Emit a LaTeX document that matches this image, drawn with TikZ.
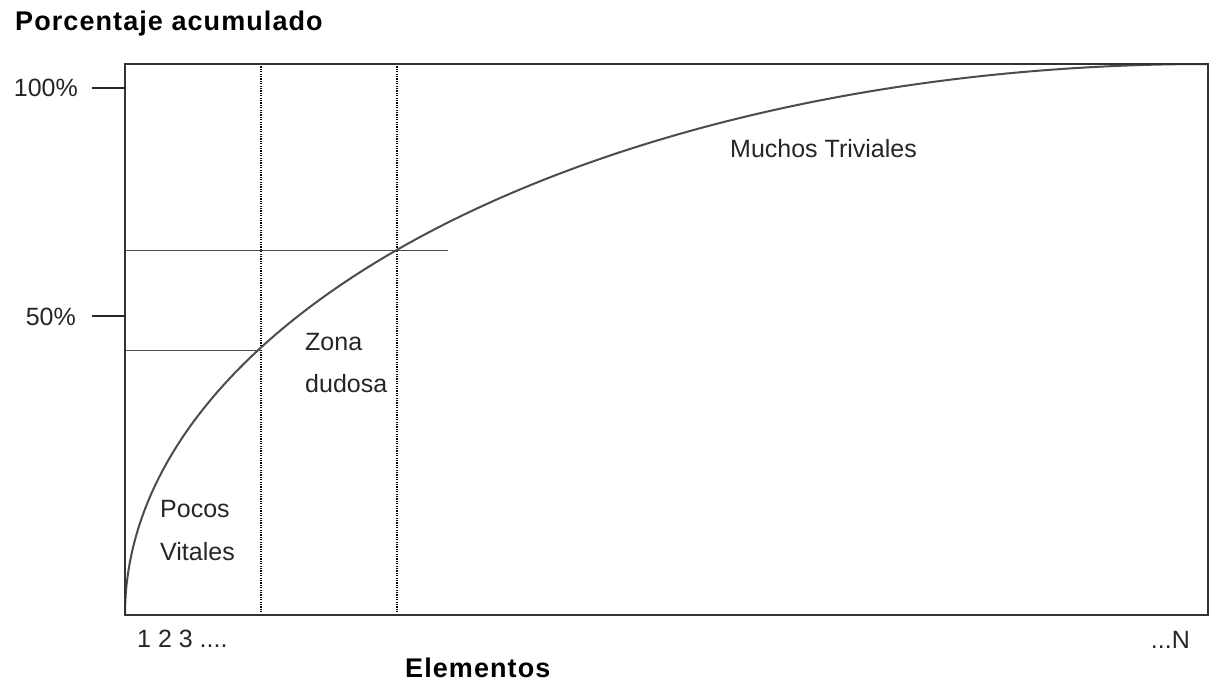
\documentclass[tikz,border=0pt]{standalone}
\usepackage{fontspec}
\setmainfont{Liberation Sans}
\newfontfamily\titlefont[LetterSpace=4]{Liberation Sans Bold}
\begin{document}
\begin{tikzpicture}[x=1pt,y=-1pt,
  lbl/.style={inner sep=0pt,font=\fontsize{25}{25}\selectfont,text=black!85},
  ttl/.style={inner sep=0pt,font=\titlefont\fontsize{27}{27}\selectfont},
  frame/.style={draw=black!80,line width=2pt},
  tick/.style={draw=black!85,line width=2pt},
  guide/.style={draw=black!70,line width=1pt},
  dots/.style={draw=black,line width=1.3pt,dash pattern=on 1.2pt off 1.2pt},
  curve/.style={draw=black!70,line width=2pt,line join=round}]
\useasboundingbox (0,0) rectangle (1211,682);
\fill[white] (0,0) rectangle (1211,682);
% frame corners
\coordinate (bl) at (125,615);
\coordinate (tr) at (1208,64);
% guide lines
\coordinate (v1t) at (261,64);  \coordinate (v1b) at (261,615);
\coordinate (v2t) at (397,64);  \coordinate (v2b) at (397,615);
\coordinate (h1a) at (125,250); \coordinate (h1b) at (448,250);
\coordinate (h2a) at (125,350); \coordinate (h2b) at (261,350);
\draw[dots] (v1t) -- (v1b);
\draw[dots] (v2t) -- (v2b);
\draw[guide] (h1a) -- (h1b);
\draw[guide] (h2a) -- (h2b);
% curve: quarter ellipse from bottom-left to top-right
\coordinate (c1) at (125,310.7);
\coordinate (c2) at (609.9,64);
\draw[curve] (bl) .. controls (c1) and (c2) .. (tr);
% frame
\draw[frame] (bl) rectangle (tr);
% ticks
\coordinate (t100a) at (92,88);  \coordinate (t100b) at (125,88);
\coordinate (t50a) at (92,316);  \coordinate (t50b) at (125,316);
\draw[tick] (t100a) -- (t100b);
\draw[tick] (t50a) -- (t50b);
% labels
\node[ttl,anchor=base west] (title) at (15,31) {Porcentaje acumulado};
\node[ttl,anchor=base west] (xlab) at (405,677) {Elementos};
\node[lbl,anchor=base east] (p100) at (78,97) {100\%};
\node[lbl,anchor=base east] (p50) at (76,325) {50\%};
\node[lbl,anchor=base west] (muchos) at (730,158) {Muchos Triviales};
\node[lbl,anchor=base west] (zona) at (305,350) {Zona};
\node[lbl,anchor=base west] (dudosa) at (305,392) {dudosa};
\node[lbl,anchor=base west] (pocos) at (160,517) {Pocos};
\node[lbl,anchor=base west] (vitales) at (160,560) {Vitales};
\node[lbl,anchor=base west] (n123) at (137,647) {1 2 3 ....};
\node[lbl,anchor=base east] (nN) at (1190,648) {...N};
\end{tikzpicture}
\end{document}
